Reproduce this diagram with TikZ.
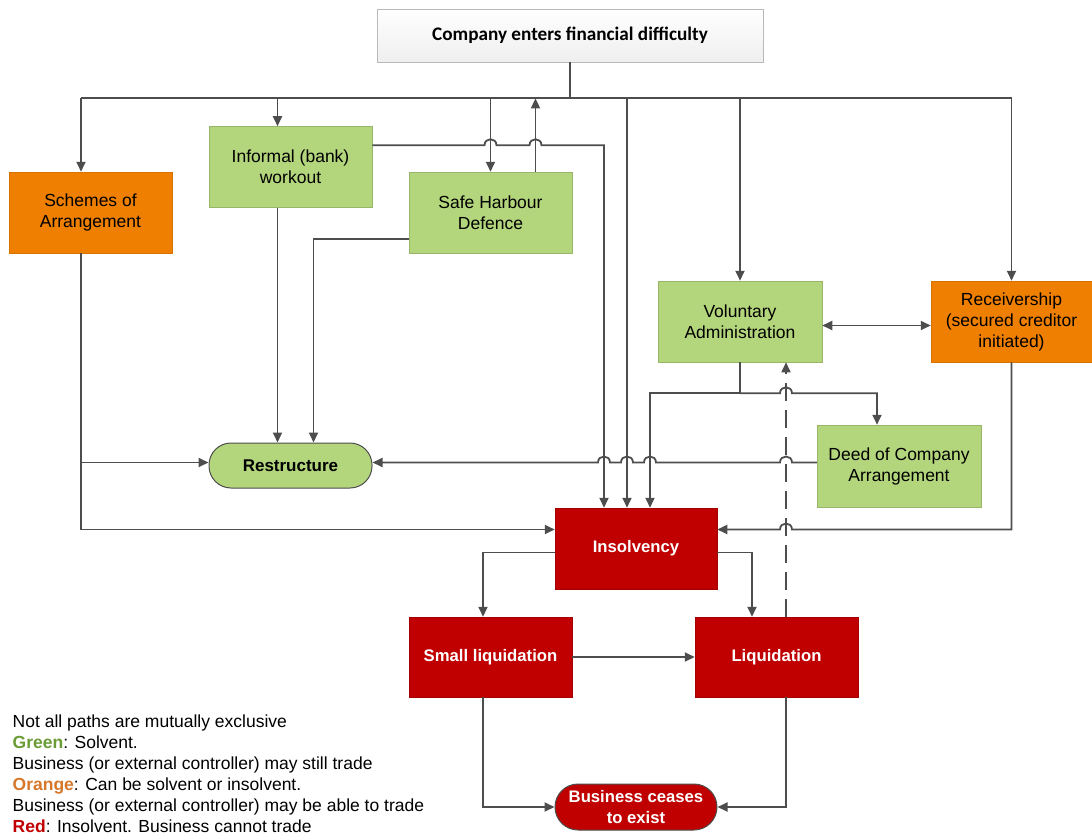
\documentclass[tikz,border=0pt]{standalone}
\usepackage{fontspec}
\setmainfont{Liberation Sans}
\newfontfamily\calfont{Carlito}
\usepackage{xcolor}
\usetikzlibrary{arrows.meta,positioning,calc}

\definecolor{solvgreen}{HTML}{B3D57B}
\definecolor{eitherorange}{HTML}{EE7F00}
\definecolor{insred}{HTML}{C00000}
\definecolor{linkgray}{HTML}{4D4D4D}
\definecolor{keygreen}{HTML}{6A9B34}
\definecolor{keyorange}{HTML}{D6772A}
% small bump where a line crosses over another one
\newcommand{\pathhop}[1]{-- ($(#1)+(-6,0)$) .. controls ($(#1)+(-6,-8)$) and ($(#1)+(6,-8)$) .. ($(#1)+(6,0)$)}

\begin{document}
\begin{tikzpicture}[x=1pt, y=-1pt,
  every node/.style={font=\fontsize{17.5}{21}\selectfont, align=center, inner sep=0pt},
  box/.style={rectangle, minimum width=163pt, minimum height=81pt},
  solvent/.style={box, fill=solvgreen, draw=solvgreen!85!black, line width=0.5pt},
  either/.style={box, fill=eitherorange, draw=eitherorange!90!black, line width=0.5pt},
  insolvent/.style={box, fill=insred, draw=insred!85!black, line width=0.5pt, text=white,
    font=\bfseries\fontsize{16.7}{20.5}\selectfont},
  link/.style={draw=linkgray, line width=1.8pt},
  arr/.style={link, -{Triangle[length=10pt,width=9pt]}},
  rarr/.style={link, {Triangle[length=10pt,width=9pt]}-},
  darr/.style={link, {Triangle[length=10pt,width=9pt]}-{Triangle[length=10pt,width=9pt]}}]
  \useasboundingbox (0,0) rectangle (1092,840);

  % ---- boxes ----
  \node[box, minimum width=386pt, minimum height=53pt, draw=gray!55, line width=0.8pt,
    top color=white, bottom color=gray!13, font=\calfont\bfseries\fontsize{19.2}{22}\selectfont]
    (top) at (570,35.5) {Company enters financial difficulty};
  \node[either] (sch) at (90.5,212.5) {Schemes of\\Arrangement};
  \node[solvent] (inf) at (290.5,167) {Informal (bank)\\workout};
  \node[solvent] (shd) at (490.5,212.5) {Safe Harbour\\Defence};
  \node[solvent, minimum width=164pt] (va) at (740,321.5) {Voluntary\\Administration};
  \node[either, minimum width=161pt] (rec) at (1011.5,321.5) {Receivership\\(secured creditor\\initiated)};
  \node[solvent, minimum width=164pt, minimum height=82pt] (doca) at (899,466) {Deed of Company\\Arrangement};
  \node[box, minimum height=45pt, rounded corners=22pt, fill=solvgreen, draw=linkgray, line width=1pt,
    font=\bfseries\fontsize{17}{20}\selectfont] (res) at (290.5,465.5) {Restructure};
  \node[insolvent, minimum width=162pt] (ins) at (636,548.5) {Insolvency};
  \node[insolvent, minimum height=80pt] (sliq) at (490.5,657) {Small liquidation};
  \node[insolvent, minimum height=80pt] (liq) at (776.5,657) {Liquidation};
  \node[box, minimum width=162pt, minimum height=46pt, rounded corners=23pt, fill=insred, draw=linkgray,
    line width=1pt, text=white, font=\bfseries\fontsize{16.7}{20.5}\selectfont]
    (end) at (636,807) {Business ceases\\to exist};

  % ---- ports ----
  \coordinate (bus) at ($(top.south)+(0,36)$);
  \coordinate (schN) at ($(sch.north)+(-9.5,0)$);
  \coordinate (schS) at ($(sch.south)+(-9.5,0)$);
  \coordinate (infN) at ($(inf.north)+(-13,0)$);
  \coordinate (infS) at ($(inf.south)+(-13,0)$);
  \coordinate (infE) at ($(inf.north east)+(0,19)$);
  \coordinate (shdN) at ($(shd.north)+(45,0)$);
  \coordinate (shdW) at ($(shd.south west)+(0,-14)$);
  \coordinate (resB) at ($(res.north)+(23,0)$);
  \coordinate (resE) at ($(res.east)+(0,-3)$);
  \coordinate (resW) at ($(res.west)+(0,-3)$);
  \coordinate (insA) at ($(ins.north)+(-32,0)$);
  \coordinate (insB) at ($(ins.north)+(-9,0)$);
  \coordinate (insC) at ($(ins.north)+(14,0)$);
  \coordinate (insW) at ($(ins.west)+(0,-19)$);
  \coordinate (insE) at ($(ins.east)+(0,-19)$);
  \coordinate (insWl) at ($(ins.west)+(0,4)$);
  \coordinate (insEl) at ($(ins.east)+(0,4)$);
  \coordinate (split) at ($(va.south)+(0,31)$);
  \coordinate (vaD) at ($(va.south)+(46,0)$);
  \coordinate (docaN) at ($(doca.north)+(-22,0)$);
  \coordinate (sliqN) at ($(sliq.north)+(-7.5,0)$);
  \coordinate (sliqS) at ($(sliq.south)+(-7.5,0)$);
  \coordinate (liqN) at ($(liq.north)+(-24.5,0)$);
  \coordinate (liqD) at ($(liq.north)+(9.5,0)$);
  \coordinate (liqS) at ($(liq.south)+(9.5,0)$);

  % ---- from the top box ----
  \draw[link] (top.south) -- (bus);
  \draw[link] (schN |- bus) -- (rec.north |- bus);
  \draw[arr] (schN |- bus) -- (schN);
  \draw[arr] (infN |- bus) -- (infN);
  \draw[arr] (shd.north |- bus) -- (shd.north);
  \draw[arr] (shdN) -- (shdN |- bus);
  \draw[arr] (insB |- bus) -- (insB);
  \draw[arr] (va.north |- bus) -- (va.north);
  \draw[arr] (rec.north |- bus) -- (rec.north);

  % ---- to restructure ----
  \draw[arr] (infE) \pathhop{shd.north |- infE} \pathhop{shdN |- infE} -| (insA);
  \draw[arr] (infS) -- (infS |- res.north);
  \draw[arr] (shdW) -| (resB);
  \draw[arr] (schS) |- (insW);
  \draw[arr] (schS |- resW) -- (resW);
  \draw[rarr] (resE) \pathhop{insA |- resE} \pathhop{insB |- resE}
    \pathhop{insC |- resE} \pathhop{vaD |- resE} -- (resE -| doca.west);

  % ---- administration ----
  \draw[link] (va.south) -- (split);
  \draw[arr] (split) -| (insC);
  \draw[arr] (split) \pathhop{vaD |- split} -| (docaN);
  \draw[darr] ([yshift=-4pt]va.east) -- ([yshift=-4pt]va.east -| rec.west);
  \draw[rarr] (insE) \pathhop{vaD |- insE} -| (rec.south);
  \draw[arr, line width=1.6pt, dash pattern=on 18pt off 9pt] (liqD) -- (vaD);

  % ---- liquidation ----
  \draw[arr] (insWl) -| (sliqN);
  \draw[arr] (insEl) -| (liqN);
  \draw[arr] (sliq.east) -- (liq.west);
  \draw[arr] (sliqS) |- (end.west);
  \draw[arr] (liqS) |- (end.east);

  % ---- key ----
  \node[anchor=north west, align=left] (key) at (12.5,715) {Not all paths are mutually exclusive\\
    \textbf{\textcolor{keygreen}{Green}}: Solvent.\\
    Business (or external controller) may still trade\\
    \textbf{\textcolor{keyorange}{Orange}}: Can be solvent or insolvent.\\
    Business (or external controller) may be able to trade\\
    \textbf{\textcolor{insred}{Red}}: Insolvent. Business cannot trade};
\end{tikzpicture}
\end{document}
